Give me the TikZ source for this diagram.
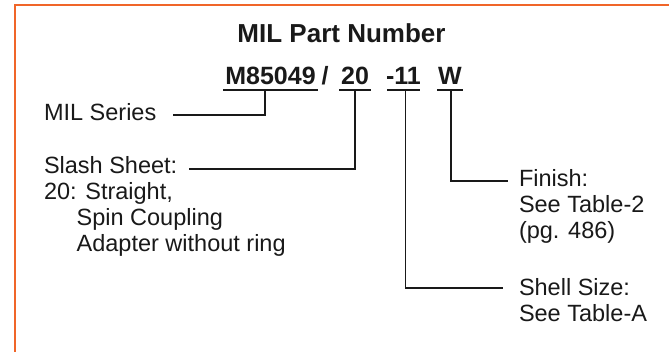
\documentclass[tikz,border=0pt]{standalone}
\usepackage{fontspec}
\setmainfont{Liberation Sans}
\definecolor{frameorange}{RGB}{240,101,41}
\definecolor{ink}{RGB}{25,25,25}
\begin{document}
\begin{tikzpicture}[x=1pt,y=-1pt,
  body/.style={inner sep=0pt,outer sep=0pt,text=ink,align=left,
    font=\fontsize{23.5}{25.8}\selectfont},
  pn/.style={inner sep=0pt,outer sep=0pt,text=ink,
    font=\fontsize{25}{28}\selectfont\bfseries},
  ttl/.style={inner sep=0pt,outer sep=0pt,text=ink,
    font=\fontsize{26}{30}\selectfont\bfseries},
  lead/.style={draw=ink,line width=1.7pt},
  frame/.style={draw=frameorange,line width=2.2pt}
]
\useasboundingbox (0,0) rectangle (669,352);
\draw[frame] (15,360) -- (15,5) -- (680,5);

% title
\node[ttl,anchor=base] (title) at (341.5,43) {MIL Part Number};

% part number segments
\node[pn,anchor=base] (ser) at (270.5,85) {M85049};
\node[pn,anchor=base] (sl) at (325,85) {/};
\node[pn,anchor=base] (ss) at (355,85) {20};
\node[pn,anchor=base] (sz) at (403.5,85) {-11};
\node[pn,anchor=base] (fin) at (450,85) {W};

% underlines
\coordinate (serL) at (223,90); \coordinate (serR) at (318,90);
\coordinate (ssL) at (339,90); \coordinate (ssR) at (371,90);
\coordinate (szL) at (387,90); \coordinate (szR) at (420,90);
\coordinate (finL) at (437,90); \coordinate (finR) at (463,90);
\draw[lead] (serL) -- (serR);
\draw[lead] (ssL) -- (ssR);
\draw[lead] (szL) -- (szR);
\draw[lead] (finL) -- (finR);

% descriptions (base anchor = baseline of the last line)
\node[body,anchor=base west] (milser) at (44,120.5) {MIL Series};
\node[body,anchor=base west] (slash) at (44,251.4) {Slash Sheet:\\20: Straight,\\\phantom{20:}Spin Coupling\\\phantom{20:}Adapter without ring};
\node[body,anchor=base west] (finish) at (519,238.6) {Finish:\\See Table-2\\(pg. 486)};
\node[body,anchor=base west] (shell) at (519,321.8) {Shell Size:\\See Table-A};

% leader ends
\coordinate (e1) at (173,115);
\coordinate (e2) at (189,169);
\coordinate (e3) at (508,181);
\coordinate (e4) at (503,288);

\draw[lead] (265,90) |- (e1);
\draw[lead] (355,90) |- (e2);
\draw[lead] (451,90) |- (e3);
\draw[lead] (405.5,90) |- (e4);
\end{tikzpicture}
\end{document}
